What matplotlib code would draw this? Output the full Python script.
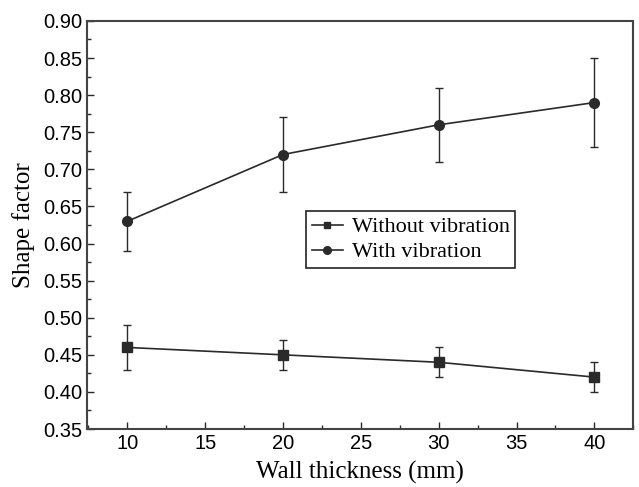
import numpy as np
import matplotlib.pyplot as plt
from matplotlib.ticker import MultipleLocator
from matplotlib.lines import Line2D

# data
thickness = [10, 20, 30, 40]
without_vib = [0.46, 0.45, 0.44, 0.42]
without_err = [0.03, 0.02, 0.02, 0.02]
with_vib = [0.63, 0.72, 0.76, 0.79]
with_err = [0.04, 0.05, 0.05, 0.06]
ytick_vals = [0.35, 0.40, 0.45, 0.50, 0.55, 0.60, 0.65, 0.70, 0.75, 0.80, 0.85, 0.90]

serif = ['Liberation Serif', 'DejaVu Serif']
sans = ['Liberation Sans', 'DejaVu Sans']

fig = plt.figure(figsize=(6.39, 4.87), dpi=100)
ax = fig.add_axes([0.136, 0.119, 0.855, 0.838])

col = '#2a2a2a'
ax.errorbar(thickness, without_vib, yerr=without_err, color=col, marker='s', ms=6.5,
            lw=1.2, elinewidth=1.0, capsize=3, capthick=1.0)
ax.errorbar(thickness, with_vib, yerr=with_err, color=col, marker='o',
            ms=7, lw=1.2, elinewidth=1.0, capsize=3, capthick=1.0)

ax.set_xlim(7.4, 42.5)
ax.set_ylim(0.35, 0.90)
ax.xaxis.set_major_locator(MultipleLocator(5))
ax.xaxis.set_minor_locator(MultipleLocator(2.5))
ax.yaxis.set_minor_locator(MultipleLocator(0.025))
ax.set_yticks(ytick_vals)
ax.set_yticklabels(['%.2f' % v for v in ytick_vals])
ax.tick_params(which='both', direction='in', top=False, right=False, color=col)
ax.tick_params(which='major', length=5, width=1, labelsize=14.5)
ax.tick_params(which='minor', length=3, width=1)
for lab in ax.get_xticklabels() + ax.get_yticklabels():
    lab.set_family(sans)

for s in ax.spines.values():
    s.set_color('#444444')
    s.set_linewidth(1.5)

ax.set_xlabel('Wall thickness (mm)', family=serif, fontsize=18, labelpad=6)
ax.set_ylabel('Shape factor', family=serif, fontsize=18, labelpad=6)

handles = [Line2D([], [], color=col, marker='s', ms=5, lw=1.2),
           Line2D([], [], color=col, marker='o', ms=5.5, lw=1.2)]
leg = ax.legend(handles, ['Without vibration', 'With vibration'], loc='lower left',
                bbox_to_anchor=(0.401, 0.395), prop={'family': serif, 'size': 16},
                fancybox=False, edgecolor='#222222', framealpha=1, handlelength=1.4,
                handletextpad=0.4, borderpad=0.25, labelspacing=0.2, borderaxespad=0)
leg.get_frame().set_linewidth(1.2)

fig.savefig('out.png', dpi=100)
